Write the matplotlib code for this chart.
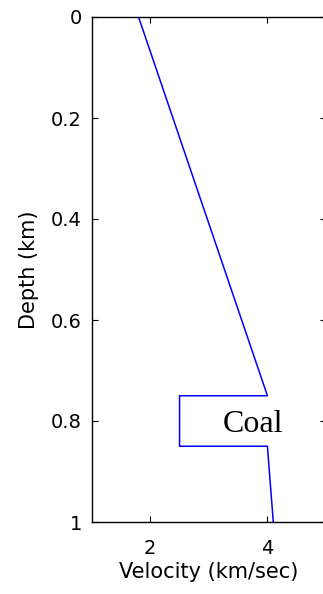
import matplotlib.pyplot as plt

# velocity model
velocity = [1.8, 4.0, 2.5, 2.5, 4.0, 4.1]   # km/sec
depth = [0.0, 0.75, 0.75, 0.85, 0.85, 1.0]  # km

x_ticks = [2, 4]
y_ticks = [0, 0.2, 0.4, 0.6, 0.8, 1]
y_tick_labels = ["0", "0.2", "0.4", "0.6", "0.8", "1"]

plt.rcParams["font.family"] = "DejaVu Sans"

fig = plt.figure(figsize=(3.23, 5.94), dpi=100)
# axes runs slightly past the right edge, as in the original crop
ax = fig.add_axes([91.7 / 323, 72 / 594, 234.3 / 323, 505 / 594])

ax.plot(velocity, depth, color="blue", lw=1.1)
ax.set_xlim(1, 5)
ax.set_ylim(1, 0)

ax.set_xticks(x_ticks)
ax.set_xticklabels([str(t) for t in x_ticks])
ax.set_yticks(y_ticks)
ax.set_yticklabels(y_tick_labels)
ax.tick_params(direction="in", length=4, width=0.8, top=True, right=True,
               labelsize=14, colors="black")
ax.tick_params(axis="x", pad=12)
ax.tick_params(axis="y", pad=7)
for s in ax.spines.values():
    s.set_linewidth(1)

ax.set_xlabel("Velocity (km/sec)", fontsize=15, labelpad=3)
ax.set_ylabel("Depth (km)", fontsize=15, labelpad=9)

ax.text(3.245, 0.821, "Coal", family="Liberation Serif", fontsize=23,
        ha="left", va="baseline")

fig.savefig("out.png", dpi=100)
